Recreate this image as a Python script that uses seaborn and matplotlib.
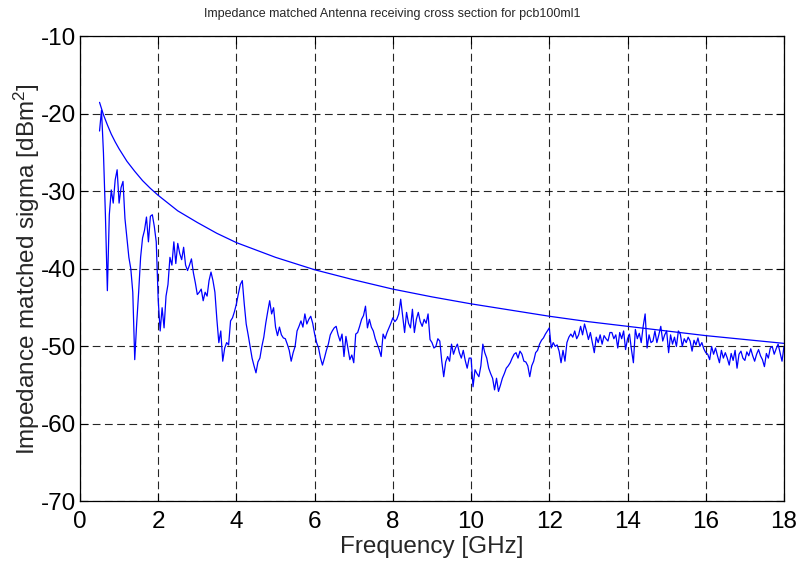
import numpy as np
import pandas as pd
import matplotlib
matplotlib.use("Agg")
import matplotlib.pyplot as plt
import seaborn as sns

# Smooth reference curve (upper envelope), read at chosen frequencies
envelope_freq_ghz = [0.5, 0.6, 0.7, 0.8, 0.9, 1.0, 1.2, 1.4, 1.6, 1.8, 2.0, 2.5, 3.0,
                     3.5, 4.0, 5.0, 6.0, 7.0, 8.0, 9.0, 10.0, 11.0, 12.0, 13.0,
                     14.0, 15.0, 16.0, 17.0, 18.0]
envelope_db = [-18.5, -20.1, -21.4, -22.6, -23.6, -24.5, -26.1, -27.4, -28.6, -29.6,
               -30.5, -32.5, -34.0, -35.4, -36.6, -38.5, -40.1, -41.4, -42.6, -43.6,
               -44.5, -45.3, -46.1, -46.8, -47.4, -48.0, -48.6, -49.1, -49.6]

# Measured impedance matched sigma, sampled every 0.05 GHz from 0.5 to 18 GHz
sigma_start_ghz = 0.5
sigma_step_ghz = 0.05
sigma_db = [
    -22.2, -19.5, -25.0, -33.0, -42.8, -33.0, -29.8, -31.5, -28.5, -27.2,   # 0.50
    -31.5, -29.5, -28.7, -33.5, -36.0, -38.5, -40.0, -43.0, -51.7, -47.0,   # 1.00
    -43.0, -38.5, -36.0, -35.0, -33.3, -36.5, -33.2, -33.0, -34.5, -36.5,   # 1.50
    -44.0, -48.0, -45.0, -47.6, -43.5, -42.0, -38.5, -39.5, -36.5, -39.3,   # 2.00
    -36.7, -38.0, -38.8, -37.2, -39.5, -40.2, -39.5, -38.7, -40.5, -41.8,   # 2.50
    -43.3, -43.0, -42.6, -44.1, -43.0, -43.5, -41.5, -40.4, -41.5, -43.0,   # 3.00
    -46.5, -49.5, -48.0, -51.9, -50.2, -49.5, -49.8, -46.7, -46.3, -45.5,   # 3.50
    -44.5, -43.2, -42.0, -41.5, -44.5, -47.1, -48.5, -50.0, -51.5, -52.5,   # 4.00
    -53.4, -52.0, -51.5, -50.0, -48.8, -47.0, -45.5, -44.1, -45.8, -45.0,   # 4.50
    -47.5, -48.6, -47.5, -48.5, -48.9, -49.0, -49.7, -50.5, -51.9, -50.8,   # 5.00
    -50.0, -48.0, -47.4, -46.7, -47.5, -45.8, -47.1, -46.5, -46.1, -47.0,   # 5.50
    -48.4, -49.5, -50.2, -51.5, -52.4, -51.5, -50.5, -49.7, -48.5, -48.0,   # 6.00
    -47.6, -47.4, -48.5, -49.3, -48.4, -51.3, -48.7, -50.2, -51.7, -51.1,   # 6.50
    -52.1, -48.4, -48.2, -47.4, -46.5, -46.0, -44.8, -47.6, -46.5, -47.5,   # 7.00
    -48.0, -49.0, -49.7, -50.4, -51.3, -48.4, -49.0, -48.2, -47.6, -47.0,   # 7.50
    -46.3, -46.8, -46.5, -45.8, -43.9, -46.0, -48.2, -45.6, -47.0, -47.6,   # 8.00
    -45.2, -48.2, -46.5, -45.6, -46.8, -47.4, -46.5, -47.0, -45.8, -49.1,   # 8.50
    -49.5, -50.2, -50.0, -49.0, -49.3, -51.9, -53.9, -52.0, -51.3, -51.9,   # 9.00
    -49.7, -51.0, -50.2, -49.7, -50.8, -51.5, -50.5, -51.8, -52.8, -51.5,   # 9.50
    -51.5, -55.2, -53.0, -53.5, -53.9, -52.5, -49.7, -50.8, -51.5, -52.8,   # 10.00
    -53.5, -54.1, -55.6, -54.1, -55.8, -55.0, -54.1, -53.5, -52.8, -52.5,   # 10.50
    -52.1, -51.5, -51.0, -50.8, -51.5, -50.6, -51.0, -51.9, -52.0, -52.5,   # 11.00
    -53.9, -52.5, -51.9, -50.8, -50.5, -49.7, -49.2, -48.9, -48.4, -48.0,   # 11.50
    -47.6, -50.2, -49.5, -50.0, -49.8, -50.6, -52.1, -50.5, -51.9, -49.5,   # 12.00
    -48.8, -48.4, -48.8, -48.0, -49.0, -48.5, -47.4, -48.5, -47.1, -48.0,   # 12.50
    -49.1, -48.2, -49.5, -50.8, -48.8, -49.5, -48.5, -49.7, -48.6, -49.0,   # 13.00
    -49.3, -48.2, -48.2, -49.0, -48.5, -50.2, -48.2, -49.0, -48.0, -50.4,   # 13.50
    -49.0, -48.4, -50.4, -52.1, -47.8, -49.0, -48.3, -49.5, -47.4, -45.8,   # 14.00
    -50.2, -48.5, -49.5, -49.3, -48.0, -49.5, -48.5, -47.4, -49.3, -48.5,   # 14.50
    -48.0, -50.8, -48.5, -49.7, -48.8, -50.0, -48.0, -48.4, -50.0, -49.0,   # 15.00
    -49.5, -48.8, -49.3, -50.6, -49.2, -49.8, -48.9, -50.0, -49.5, -50.3,   # 15.50
    -50.8, -51.0, -51.7, -50.0, -51.0, -50.2, -51.2, -52.1, -50.5, -51.5,   # 16.00
    -50.8, -51.5, -52.4, -50.9, -51.8, -50.5, -52.8, -51.0, -50.6, -51.5,   # 16.50
    -51.8, -50.7, -51.2, -50.3, -51.2, -51.9, -51.0, -50.4, -51.2, -51.7,   # 17.00
    -52.6, -50.9, -51.5, -50.2, -50.0, -51.0, -50.3, -49.7, -50.8, -51.9,   # 17.50
    -50.0,                                                                  # 18.00
]

x_ticks = [0, 2, 4, 6, 8, 10, 12, 14, 16, 18]
y_ticks = [-70, -60, -50, -40, -30, -20, -10]

sigma_freq = sigma_start_ghz + sigma_step_ghz * np.arange(len(sigma_db))
measured = pd.DataFrame({"freq": sigma_freq, "sigma": sigma_db})
envelope = pd.DataFrame({"freq": envelope_freq_ghz, "sigma": envelope_db})

sns.set_style("ticks")
plt.rcParams["font.family"] = ["Liberation Sans", "DejaVu Sans"]
plt.rcParams["mathtext.fontset"] = "custom"
plt.rcParams["mathtext.rm"] = "Liberation Sans"
plt.rcParams["mathtext.it"] = "Liberation Sans:italic"

fig = plt.figure(figsize=(7.99, 5.62), dpi=100)
ax = fig.add_axes([0.1001, 0.1077, 0.8811, 0.8274])

line_color = "#0000ff"
sns.lineplot(data=envelope, x="freq", y="sigma", ax=ax, color=line_color,
             linewidth=0.9, estimator=None, sort=False)
sns.lineplot(data=measured, x="freq", y="sigma", ax=ax, color=line_color,
             linewidth=0.9, estimator=None, sort=False)

ax.set_xlim(0, 18)
ax.set_ylim(-70, -10)
ax.set_xticks(x_ticks)
ax.set_yticks(y_ticks)
ax.set_xticklabels([str(t) for t in x_ticks])
ax.set_yticklabels([str(t) for t in y_ticks])

ax.grid(True, color="black", linestyle=(0, (7, 4)), linewidth=0.8, alpha=0.85)
ax.set_axisbelow(True)
for side in ["top", "right", "bottom", "left"]:
    ax.spines[side].set_visible(True)
    ax.spines[side].set_color("black")
    ax.spines[side].set_linewidth(0.9)
ax.tick_params(axis="both", which="both", direction="in", length=6, width=0.8,
               top=True, right=True, labelsize=17.5, colors="black")
ax.tick_params(axis="x", pad=7)
ax.tick_params(axis="y", pad=3)

ax.set_xlabel("Frequency [GHz]", fontsize=17.5, labelpad=2)
ax.set_ylabel("Impedance matched sigma [dBm$^2$]", fontsize=17.5, labelpad=-1)
ax.set_title("Impedance matched Antenna receiving cross section for pcb100ml1",
             fontsize=9, pad=14, x=0.443)

fig.savefig("out.png", dpi=100, facecolor="white")
